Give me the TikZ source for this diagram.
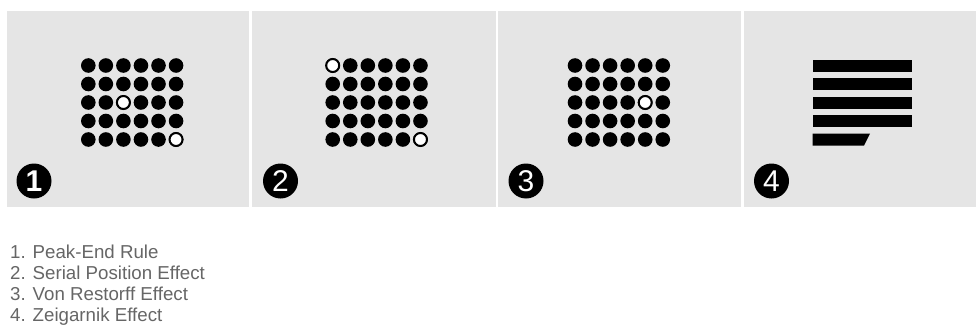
\documentclass[tikz,border=0pt]{standalone}
\usepackage{fontspec}
\setmainfont{Liberation Sans}
\definecolor{panelgray}{HTML}{E5E5E5}
\definecolor{textgray}{HTML}{666666}
\begin{document}
\begin{tikzpicture}[x=1pt,y=-1pt,
  panel/.style={fill=panelgray},
  hollow/.style={fill=white,draw=black,line width=2pt},
  badge/.style={circle,fill=black,text=white,minimum size=35pt,inner sep=0pt,font=\fontsize{30}{30}\selectfont},
  caption/.style={anchor=base west,inner sep=0pt,text=textgray,font=\fontsize{18.7}{20}\selectfont}]
\useasboundingbox (0,0) rectangle (976,329);
\fill[white] (0,0) rectangle (976,329);
% panels
\fill[panel] (7,11) rectangle (249,207);
\fill[panel] (252,11) rectangle (496,207);
\fill[panel] (498,11) rectangle (741,207);
\fill[panel] (744,11) rectangle (976,207);
% dot grids
\foreach \xo in {88.3,332.7,575} {
  \foreach \c in {0,...,5} {
    \foreach \r in {0,...,4} {
      \fill (\xo+\c*17.55,65.5+\r*18.5) circle[radius=7.3];
    }
  }
}
% hollow dots
\draw[hollow] (88.3+2*17.55,65.5+2*18.5) circle[radius=6.5];
\draw[hollow] (88.3+5*17.55,65.5+4*18.5) circle[radius=6.5];
\draw[hollow] (332.7,65.5) circle[radius=6.5];
\draw[hollow] (332.7+5*17.55,65.5+4*18.5) circle[radius=6.5];
\draw[hollow] (575+4*17.55,65.5+2*18.5) circle[radius=6.5];
% bars
\foreach \yy in {59.7,78.2,96.7,115.2} {
  \fill (812.7,\yy) rectangle +(99,12);
}
\fill (812.7,133.7) -- (870,133.7) -- (864,145.7) -- (812.7,145.7) -- cycle;
% badges
\node[badge] (b1) at (34,181) {\bfseries 1};
\node[badge] (b2) at (280.5,181) {2};
\node[badge] (b3) at (526,181) {3};
\node[badge] (b4) at (771.5,181) {4};
% captions
\node[caption] (l1) at (10,258.3) {1. Peak-End Rule};
\node[caption] (l2) at (10,279.5) {2. Serial Position Effect};
\node[caption] (l3) at (10,300.7) {3. Von Restorff Effect};
\node[caption] (l4) at (10,321.8) {4. Zeigarnik Effect};
\end{tikzpicture}
\end{document}
